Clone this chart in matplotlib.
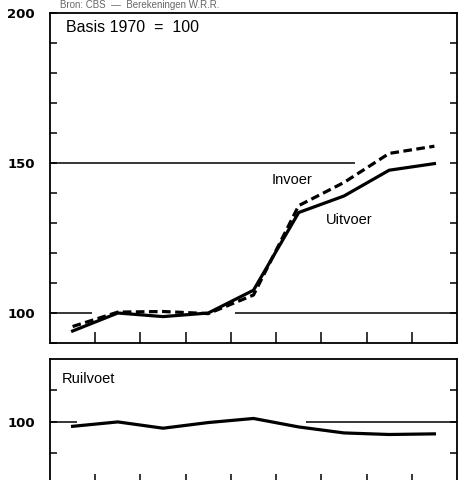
import matplotlib.pyplot as plt

years = [1970, 1971, 1972, 1973, 1974, 1975, 1976, 1977, 1978]
uitvoer = [94.0, 100.0, 98.8, 100.0, 107.6, 133.5, 139.0, 147.6, 149.8]
invoer = [95.5, 100.3, 100.5, 99.8, 106.0, 135.8, 143.5, 153.2, 155.6]
ruilvoet = [98.6, 100.0, 98.0, 99.8, 101.1, 98.4, 96.5, 96.0, 96.2]

plt.rcParams['font.family'] = ['Liberation Sans', 'DejaVu Sans']

fig = plt.figure(figsize=(4.6, 4.8), dpi=100)
ax1 = fig.add_axes([0.1087, 0.2854, 0.8848, 0.6875])
ax2 = fig.add_axes([0.1087, -0.01, 0.8848, 0.262])

for ax in (ax1, ax2):
    ax.set_xlim(years[0] - 0.5, years[-1] + 0.5)
    ax.set_xticks([y + 0.5 for y in years[:-1]])
    ax.set_xticklabels([])
    for s in ax.spines.values():
        s.set_linewidth(1.3)
    ax.tick_params(axis='x', direction='in', length=8, width=1.1, bottom=True, top=False)
    ax.tick_params(axis='y', direction='in', length=5, width=1.1, left=True, right=True,
                   labelsize=9.5, pad=11)

# top panel
ax1.set_ylim(90, 200)
ax1.set_yticks(range(90, 201, 10))
ax1.set_yticklabels(['', '100', '', '', '', '', '150', '', '', '', '', '200'],
                    fontweight='bold', family='DejaVu Sans')
ax1.hlines(100, 1969.5, 1970.43, color='black', lw=1.1)
ax1.hlines(100, 1973.6, 1978.5, color='black', lw=1.1)
ax1.hlines(150, 1969.5, 1976.25, color='black', lw=1.1)
ax1.plot(years, uitvoer, color='black', lw=2.3)
ax1.plot(years, invoer, color='black', lw=2.3, dashes=(2.7, 1.4))
ax1.text(0.04, 0.957, 'Basis 1970  =  100', transform=ax1.transAxes, fontsize=11.5, va='center')
ax1.text(1974.41, 144.4, 'Invoer', fontsize=10.5, va='center')
ax1.text(1975.6, 131.1, 'Uitvoer', fontsize=10.5, va='center')

# bottom panel
ax2.set_ylim(80, 120)
ax2.set_yticks([90, 100, 110])
ax2.set_yticklabels(['', '100', ''], fontweight='bold', family='DejaVu Sans')
ax2.hlines(100, 1969.5, 1970.1, color='black', lw=1.1)
ax2.hlines(100, 1975.15, 1978.5, color='black', lw=1.1)
ax2.plot(years, ruilvoet, color='black', lw=2.3)
ax2.text(0.03, 0.845, 'Ruilvoet', transform=ax2.transAxes, fontsize=10.5, va='center')

# source line at the very top
fig.text(0.13, 0.999, 'Bron: CBS  —  Berekeningen W.R.R.', fontsize=7, color='#666666',
         va='top')

fig.savefig('out.png', dpi=100)
